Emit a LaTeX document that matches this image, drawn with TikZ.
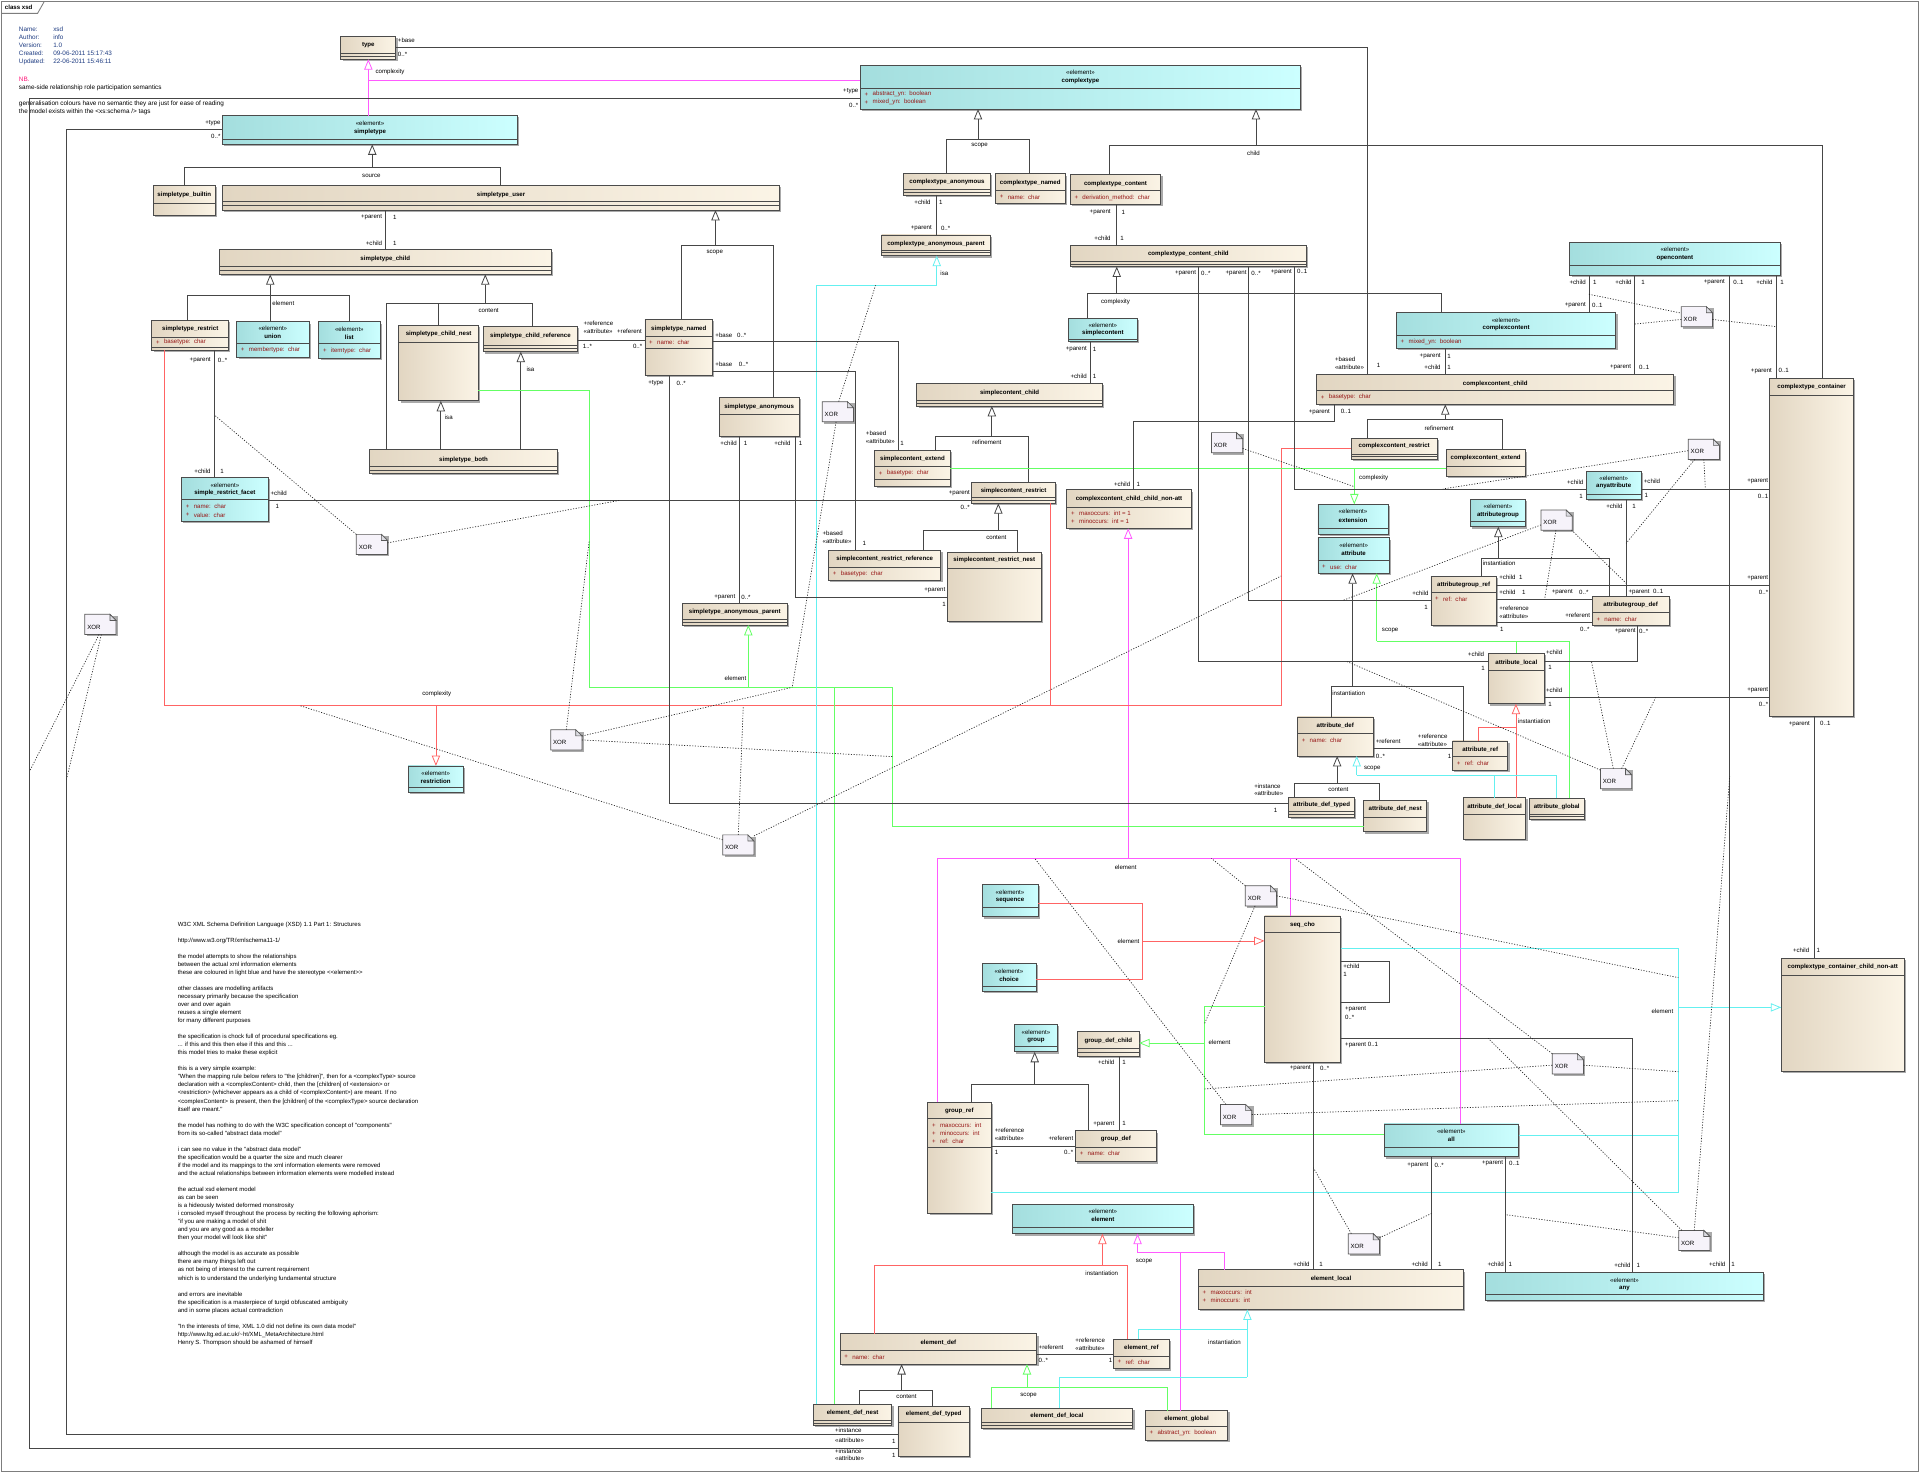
\documentclass[tikz,border=0pt]{standalone}
\usetikzlibrary{arrows.meta,calc}
\font\fR="Liberation Sans" at 5pt
\font\fB="Liberation Sans/B" at 5pt
\font\fT="Liberation Sans" at 4.9pt
\font\fH="Liberation Sans" at 5.2pt
\newcommand\fHb{\fH\baselineskip=6.55pt\relax}
\newcommand\fTb{\fT\baselineskip=6.57pt\relax}
\definecolor{bgL}{RGB}{226,214,194}
\definecolor{bgR}{RGB}{251,244,230}
\definecolor{cyL}{RGB}{164,222,222}
\definecolor{cyR}{RGB}{204,255,255}
\definecolor{boxC}{RGB}{75,75,75}
\definecolor{lnC}{RGB}{70,70,70}
\definecolor{magC}{RGB}{255,90,255}
\definecolor{redC}{RGB}{255,100,100}
\definecolor{grnC}{RGB}{100,255,100}
\definecolor{cyaC}{RGB}{100,240,240}
\definecolor{atC}{RGB}{150,20,20}
\definecolor{noteF}{RGB}{246,243,250}
\definecolor{foldF}{RGB}{220,220,226}
\definecolor{shC}{RGB}{170,170,170}
\definecolor{frC}{RGB}{125,125,125}
\definecolor{hdC}{RGB}{30,60,130}
\definecolor{nbC}{RGB}{255,20,120}
\newcount\nc
\newcommand\Tx[3][lab]{\global\advance\nc by 1\relax\edef\tname{t\the\nc}\node[#1] (\tname) at (#2) {#3};}
\newcommand\Bx[6]{\fill[shC] (#2+1.5,#3+1.5) rectangle (#4+1.5,#5+1.5);
  \node[#6,anchor=north west,minimum width={#4-#2},minimum height={#5-#3}] (#1) at (#2,#3) {};}
\newcommand\Hx[2]{\draw[cmp] (#1.west |- 0,#2) -- (#1.east |- 0,#2);}
\newcommand\Nx[3]{\Tx[nm]{#1.center |- 0,#2}{#3}}
\newcommand\Sx[2]{\Tx[stt]{#1.center |- 0,#2}{«element»}}
\newcommand\Ax[3]{\Tx[atp,xshift=3.5pt]{#1.west |- 0,#2}{+}\Tx[atp,xshift=10pt]{#1.west |- 0,#2}{#3}}
\newcommand\Xn[3]{\fill[shC] (#2+1.5,#3+1.5) rectangle (#2+27,#3+18);
  \filldraw[draw=frC!70!black, fill=noteF, line width=0.6pt] (#2,#3) -- (#2+20.5,#3) -- (#2+25.5,#3+5) -- (#2+25.5,#3+16.5) -- (#2,#3+16.5) -- cycle;
  \filldraw[draw=frC!70!black, fill=foldF, line width=0.5pt] (#2+20.5,#3) -- (#2+20.5,#3+5) -- (#2+25.5,#3+5) -- cycle;
  \node[anchor=north west, minimum width=25.5pt, minimum height=16.5pt, inner sep=0pt, outer sep=0pt] (#1) at (#2,#3) {};
  \Tx{#2+2,#3+10.3}{XOR}}
\tikzset{
 lab/.style={font=\fR, inner sep=0pt, outer sep=0pt, anchor=west, text=black},
 labE/.style={lab, anchor=east},
 labC/.style={lab, anchor=center},
 nm/.style={font=\fB, inner sep=0pt, outer sep=0pt, anchor=center, text=black},
 stt/.style={font=\fR, inner sep=0pt, outer sep=0pt, anchor=center, text=black},
 atp/.style={lab, text=atC},
 bb/.style={draw=boxC, line width=0.7pt, left color=bgL, right color=bgR, inner sep=0pt, outer sep=0pt},
 cb/.style={draw=boxC, line width=0.7pt, left color=cyL, right color=cyR, inner sep=0pt, outer sep=0pt},
 cmp/.style={draw=boxC, line width=0.6pt},
 cn/.style={line width=0.65pt},
 gl/.style={cn, draw=lnC}, ml/.style={cn, draw=magC}, rl/.style={cn, draw=redC},
 nl/.style={cn, draw=grnC}, kl/.style={cn, draw=cyaC},
 gtip/.style={-{Triangle[open, fill=white, length=8.5pt, width=6.8pt]}},
 ga/.style={gl, gtip}, ma/.style={ml, gtip}, ra/.style={rl, gtip}, na/.style={nl, gtip}, ka/.style={kl, gtip},
 xl/.style={draw=black!85, line width=0.55pt, dash pattern=on 0.9pt off 1.3pt},
}
\begin{document}
\begin{tikzpicture}[x=1pt,y=-1pt]
\useasboundingbox (0,0) rectangle (1568,1203);
\fill[white] (0,0) rectangle (1568,1203);
\draw[frC, line width=0.8pt] (1.5,1.5) rectangle (1566.5,1201.5);
\draw[frC, line width=0.7pt] (1.5,10.9) -- (30.7,10.9) -- (36,1.5);
\Tx[lab,font=\fB]{4,6.3}{class xsd}
\node[anchor=north west, inner sep=0pt, align=left, font=\fHb, text=hdC] (hdrA) at (15.3,21.9) {Name:\\Author:\\Version:\\Created:\\Updated:};
\node[anchor=north west, inner sep=0pt, align=left, font=\fHb, text=hdC] (hdrB) at (43.3,21.9) {xsd\\info\\1.0\\09-06-2011 15:17:43\\22-06-2011 15:46:11};
\node[anchor=north west, inner sep=0pt, align=left, font=\fHb] (nbtext) at (15.3,62.6) {\textcolor{nbC}{NB.}\\same-side relationship role participation semantics\\[6.55pt]generalisation colours have no semantic they are just for ease of reading\\the model exists within the <xs:schema /> tags};

% ================= BOXES =================
\Bx{type}{278.3}{29.4}{323.3}{48.4}{bb}
\Bx{st}{181.7}{94.4}{422.7}{117.9}{cb}
\Bx{ct}{702.7}{53.6}{1062}{89}{cb}
\Bx{stb}{125.3}{151.6}{175.7}{176.1}{bb}
\Bx{stu}{181.7}{151.6}{636.7}{171.5}{bb}
\Bx{stc}{179.3}{204.1}{450}{224}{bb}
\Bx{str}{124}{261.8}{186.7}{285.8}{bb}
\Bx{uni}{193.3}{262.7}{252.3}{292}{cb}
\Bx{lst}{260.3}{262.7}{310.3}{292.6}{cb}
\Bx{stn}{325.7}{265.9}{390.7}{327.4}{bb}
\Bx{strf}{394.7}{266.7}{471.7}{287.2}{bb}
\Bx{stbo}{302}{367.4}{455}{386.5}{bb}
\Bx{srf}{148.3}{389.8}{219}{426}{cb}
\Bx{stnm}{526.7}{260.7}{582}{306.7}{bb}
\Bx{stan}{587.2}{324.7}{652.8}{356}{bb}
\Bx{cta}{738}{141.5}{808.7}{159.2}{bb}
\Bx{ctn}{813}{142}{869.7}{166}{bb}
\Bx{ctc}{874}{142.3}{948}{166.8}{bb}
\Bx{ctap}{720}{191.9}{808.7}{208.8}{bb}
\Bx{cctc}{874}{200.6}{1067}{217.7}{bb}
\Bx{sc}{872.3}{260}{929}{279}{cb}
\Bx{scc}{748.7}{313}{900.3}{331.5}{bb}
\Bx{sce}{714.3}{368}{776}{397.4}{bb}
\Bx{scr}{793.5}{394}{862}{411}{bb}
\Bx{scrr}{676.7}{449.5}{768.4}{473.8}{bb}
\Bx{scrn}{773.7}{450.8}{850.3}{507.3}{bb}
\Bx{stap}{557.2}{492.7}{643}{510.4}{bb}
\Bx{ccn}{871.3}{400}{972.7}{431.5}{bb}
\Bx{oc}{1282}{197.9}{1453.6}{225.1}{cb}
\Bx{cc}{1140.3}{255}{1319.6}{284.4}{cb}
\Bx{ccc}{1075.3}{305.7}{1367}{330.2}{bb}
\Bx{ccr}{1103.6}{358}{1173.6}{375}{bb}
\Bx{cce}{1181}{367.4}{1245.6}{388.7}{bb}
\Bx{ctco}{1445.3}{309}{1513.6}{584.7}{bb}
\Bx{anya}{1295.3}{384.8}{1340.3}{407.8}{cb}
\Bx{ext}{1076.3}{411.9}{1133.6}{436.4}{cb}
\Bx{attr}{1076.3}{439.1}{1134.6}{468.2}{cb}
\Bx{agrp}{1201}{407.8}{1245.6}{430.1}{cb}
\Bx{agr}{1168.6}{470.4}{1222}{510.7}{bb}
\Bx{agd}{1300.3}{487.3}{1363}{510.7}{bb}
\Bx{al}{1215.6}{533.6}{1261}{574.7}{bb}
\Bx{ad}{1059.6}{585.5}{1121.3}{617.4}{bb}
\Bx{ar}{1186.3}{605.1}{1231.3}{629}{bb}
\Bx{adt}{1052.6}{650.9}{1106}{667.2}{bb}
\Bx{adn}{1113.6}{653.6}{1165.3}{679.2}{bb}
\Bx{adl}{1195}{651.4}{1246}{685.4}{bb}
\Bx{ag}{1249}{652}{1293.6}{669.1}{bb}
\Bx{rst}{333.3}{625.5}{378.3}{647.3}{cb}
\Bx{seqe}{802}{722.3}{847.7}{748.6}{cb}
\Bx{cho}{802}{786.6}{846}{809.6}{cb}
\Bx{grp}{828.3}{836.7}{863.7}{859}{cb}
\Bx{gdc}{880}{842.6}{930.3}{862.4}{bb}
\Bx{gr}{757.7}{900.3}{809.3}{991}{bb}
\Bx{gd}{878.3}{923.4}{944.3}{948.8}{bb}
\Bx{sq}{1032.7}{748}{1094.8}{867.5}{bb}
\Bx{all}{1130.3}{917.9}{1240.2}{944.8}{cb}
\Bx{ccna}{1454.6}{782.6}{1555.3}{874.9}{bb}
\Bx{elem}{827}{983.7}{974.3}{1007.5}{cb}
\Bx{el}{978.7}{1037}{1195.3}{1069.4}{bb}
\Bx{any}{1213}{1038.8}{1440.3}{1061.9}{cb}
\Bx{ed}{686}{1089.2}{846.7}{1114}{bb}
\Bx{er}{909.3}{1093.8}{955}{1117.9}{bb}
\Bx{edn}{664.3}{1146.9}{728.3}{1164}{bb}
\Bx{edt}{733.3}{1148.6}{791.7}{1189.5}{bb}
\Bx{edl}{801.3}{1150.2}{925}{1166.7}{bb}
\Bx{eg}{935.3}{1151.9}{1002.7}{1176.3}{bb}

% ================= CONNECTORS =================
\draw[gl] (150.7,0 |- stb.north) -- (150.7,136.6) -- (408.3,136.6) -- (408.3,0 |- stu.north);
\draw[ga] (304,136.6) -- (304,0 |- st.south);
\draw[gl] (153,0 |- str.north) -- (153,241.2) -- (285,241.2) -- (285,0 |- lst.north);
\draw[ga] (220.7,0 |- uni.north) -- (220.7,0 |- stc.south);
\draw[gl] (315.3,0 |- stbo.north) -- (315.3,248) -- (435,248) -- (435,0 |- strf.north);
\draw[gl] (357.7,248) -- (357.7,0 |- stn.north);
\draw[ga] (396.3,248) -- (396.3,0 |- stc.south);
\draw[ga] (360,0 |- stbo.north) -- (360,0 |- stn.south);
\draw[ga] (425.3,0 |- stbo.north) -- (425.3,0 |- strf.south);
\draw[gl] (556.7,0 |- stnm.north) -- (556.7,200.6) -- (632,200.6) -- (632,0 |- stan.north);
\draw[ga] (584.3,200.6) -- (584.3,0 |- stu.south);
\draw[gl] (773,0 |- cta.north) -- (773,113.8) -- (841,113.8) -- (841,0 |- ctn.north);
\draw[ga] (798.7,113.8) -- (798.7,0 |- ct.south);
\draw[gl] (906,0 |- ctc.north) -- (906,118.4) -- (1488,118.4) -- (1488,0 |- ctco.north);
\draw[ga] (1025.7,118.4) -- (1025.7,0 |- ct.south);
\draw[gl] (888.3,0 |- sc.north) -- (888.3,239.5) -- (1177,239.5) -- (1177,0 |- cc.north);
\draw[ga] (912,239.5) -- (912,0 |- cctc.south);
\draw[gl] (764,0 |- sce.north) -- (764,356.6) -- (840,356.6) -- (840,0 |- scr.north);
\draw[ga] (810,356.6) -- (810,0 |- scc.south);
\draw[gl] (754.3,0 |- scrr.north) -- (754.3,433) -- (831,433) -- (831,0 |- scrn.north);
\draw[ga] (815.3,433) -- (815.3,0 |- scr.south);
\draw[gl] (1116.3,0 |- ccr.north) -- (1116.3,342.4) -- (1227,342.4) -- (1227,0 |- cce.north);
\draw[ga] (1180.3,342.4) -- (1180.3,0 |- ccc.south);
\draw[gl] (1210,0 |- agr.north) -- (1210,456.3) -- (1314.3,456.3) -- (1314.3,0 |- agd.north);
\draw[ga] (1223.6,456.3) -- (1223.6,0 |- agrp.south);
\draw[gl] (1087,0 |- ad.north) -- (1087,560.8) -- (1195,560.8) -- (1195,0 |- ar.north);
\draw[ga] (1104.6,560.8) -- (1104.6,0 |- attr.south);
\draw[gl] (1057,0 |- adt.north) -- (1057,640) -- (1126.3,640) -- (1126.3,0 |- adn.north);
\draw[ga] (1092,640) -- (1092,0 |- ad.south);
\draw[gl] (793.3,0 |- gr.north) -- (793.3,885.5) -- (889,885.5) -- (889,0 |- gd.north);
\draw[ga] (845,885.5) -- (845,0 |- grp.south);
\draw[gl] (701.7,0 |- edn.north) -- (701.7,1135.4) -- (761.3,1135.4) -- (761.3,0 |- edt.north);
\draw[ga] (736.3,1135.4) -- (736.3,0 |- ed.south);
% magenta
\draw[ml] (300.8,0 |- st.north) -- (300.8,65.5) -- (ct.west |- 0,65.5);
\draw[ma] (300.8,65.5) -- (300.8,0 |- type.south);
\draw[ml] (765.3,0 |- gr.north) -- (765.3,701) -- (1193,701) -- (1193,0 |- all.north);
\draw[ml] (1054,701) -- (1054,0 |- sq.north);
\draw[ma] (921.3,701) -- (921.3,0 |- ccn.south);
\draw[ml] (1000,0 |- el.north) -- (1000,1023) -- (929,1023);
\draw[ml] (963.7,1023) -- (963.7,0 |- eg.north);
\draw[ma] (929,1023) -- (929,0 |- elem.south);
% red
\draw[rl] (134,0 |- str.south) -- (134,576.3) -- (1046.3,576.3) -- (1046.3,366.1) -- (ccr.west |- 0,366.1);
\draw[rl] (857.7,0 |- scr.south) -- (857.7,576.3);
\draw[ra] (356,576.3) -- (356,0 |- rst.north);
\draw[rl] (seqe.east |- 0,737.8) -- (932.7,737.8) -- (932.7,799.7) -- (cho.east |- 0,799.7);
\draw[ra] (932.7,768.4) -- (sq.west |- 0,768.4);
\draw[rl] (713.7,0 |- ed.north) -- (713.7,1033.2) -- (920.3,1033.2) -- (920.3,0 |- er.north);
\draw[ra] (900.3,1033.2) -- (900.3,0 |- elem.south);
\draw[rl] (1207.3,0 |- ar.north) -- (1207.3,594.2) -- (1238,594.2);
\draw[ra] (1238,0 |- adl.north) -- (1238,0 |- al.south);
% green
\draw[nl] (stn.east |- 0,318.5) -- (481.3,318.5) -- (481.3,561.3) -- (729,561.3) -- (729,674.5) -- (adn.west |- 0,674.5);
\draw[nl] (681.3,561.3) -- (681.3,0 |- edn.north);
\draw[na] (611.1,561.3) -- (611.1,0 |- stap.south);
\draw[nl] (sce.east |- 0,382.4) -- (cce.west |- 0,382.4);
\draw[na] (1106,382.4) -- (1106,0 |- ext.north);
\draw[nl] (1124.3,523.5) -- (1281.3,523.5) -- (1281.3,0 |- ag.north);
\draw[nl] (1238,523.5) -- (1238,0 |- al.north);
\draw[na] (1124.3,523.5) -- (1124.3,0 |- attr.south);
\draw[nl] (sq.west |- 0,821.8) -- (983.7,821.8) -- (983.7,926) -- (all.west |- 0,926);
\draw[na] (983.7,851.8) -- (gdc.east |- 0,851.8);
\draw[nl] (809.7,0 |- edl.north) -- (809.7,1133.4) -- (953.7,1133.4) -- (953.7,0 |- eg.north);
\draw[na] (838.7,1133.4) -- (838.7,0 |- ed.south);
% cyan
\draw[kl] (666.4,0 |- edn.north) -- (666.4,233) -- (765,233);
\draw[ka] (765,233) -- (765,0 |- ctap.south);
\draw[kl] (sq.east |- 0,774.8) -- (1370.6,774.8) -- (1370.6,973.7) -- (gr.east |- 0,973.7);
\draw[kl] (all.east |- 0,927.5) -- (1370.6,927.5);
\draw[ka] (1370.6,822.7) -- (ccna.west |- 0,822.7);
\draw[kl] (1108,633.2) -- (1271.3,633.2) -- (1271.3,0 |- ag.north);
\draw[kl] (1220.3,633.2) -- (1220.3,0 |- adl.north);
\draw[ka] (1108,633.2) -- (1108,0 |- ad.south);
\draw[kl] (865.3,0 |- edl.north) -- (865.3,1124.5) -- (1018.7,1124.5);
\draw[kl] (929.3,0 |- er.north) -- (929.3,1086) -- (1018.7,1086);
\draw[ka] (1018.7,1124.5) -- (1018.7,0 |- el.south);
% gray associations
\draw[gl] (type.east |- 0,38.9) -- (1116.6,38.9) -- (1116.6,0 |- ccc.north);
\draw[gl] (ct.west |- 0,80.3) -- (24.3,80.3) -- (24.3,1182.8) -- (edt.west |- 0,1182.8);
\draw[gl] (st.west |- 0,106) -- (54.3,106) -- (54.3,1171.4) -- (edt.west |- 0,1171.4);
\draw[gl] (315,0 |- stu.south) -- (315,0 |- stc.north);
\draw[gl] (175,0 |- str.south) -- (175,0 |- srf.north);
\draw[gl] (srf.east |- 0,408.6) -- (scr.west |- 0,408.6);
\draw[gl] (strf.east |- 0,277.6) -- (stnm.west |- 0,277.6);
\draw[gl] (stnm.east |- 0,279) -- (733.5,279) -- (733.5,0 |- sce.north);
\draw[gl] (stnm.east |- 0,303.5) -- (698.5,303.5) -- (698.5,0 |- scrr.north);
\draw[gl] (546.6,0 |- stnm.south) -- (546.6,656.5) -- (adt.west |- 0,656.5);
\draw[gl] (603.8,0 |- stan.south) -- (603.8,0 |- stap.north);
\draw[gl] (649.8,0 |- stan.south) -- (649.8,487.8) -- (scrn.west |- 0,487.8);
\draw[gl] (765,0 |- cta.south) -- (765,0 |- ctap.north);
\draw[gl] (911.7,0 |- ctc.south) -- (911.7,0 |- cctc.north);
\draw[gl] (890.3,0 |- sc.south) -- (890.3,0 |- scc.north);
\draw[gl] (978.7,0 |- cctc.south) -- (978.7,540.4) -- (al.west |- 0,540.4);
\draw[gl] (1019.7,0 |- cctc.south) -- (1019.7,490.3) -- (agr.west |- 0,490.3);
\draw[gl] (1057,0 |- cctc.south) -- (1057,399.3) -- (anya.west |- 0,399.3);
\draw[gl] (anya.east |- 0,399.3) -- (ctco.west |- 0,399.3);
\draw[gl] (1328,0 |- anya.south) -- (1328,0 |- agd.north);
\draw[gl] (1089.4,0 |- ccc.south) -- (1089.4,343.8) -- (926,343.8) -- (926,0 |- ccn.north);
\draw[gl] (1297.6,0 |- oc.south) -- (1297.6,0 |- cc.north);
\draw[gl] (1335,0 |- oc.south) -- (1335,0 |- ccc.north);
\draw[gl] (1412.6,0 |- oc.south) -- (1412.6,0 |- any.north);
\draw[gl] (1450.3,0 |- oc.south) -- (1450.3,0 |- ctco.north);
\draw[gl] (1180.3,0 |- cc.south) -- (1180.3,0 |- ccc.north);
\draw[gl] (agr.east |- 0,478) -- (ctco.west |- 0,478);
\draw[gl] (agr.east |- 0,489.5) -- (agd.west |- 0,489.5);
\draw[gl] (agr.east |- 0,508.5) -- (agd.west |- 0,508.5);
\draw[gl] (1337,0 |- agd.south) -- (1337,539.8) -- (al.east |- 0,539.8);
\draw[gl] (al.east |- 0,569.7) -- (ctco.west |- 0,569.7);
\draw[gl] (ad.east |- 0,611.1) -- (ar.west |- 0,611.1);
\draw[gl] (1482,0 |- ctco.south) -- (1482,0 |- ccna.north);
\draw[gl] (sq.east |- 0,785.4) -- (1135,785.4) -- (1135,818.6) -- (sq.east |- 0,818.6);
\draw[gl] (sq.east |- 0,848) -- (1333,848) -- (1333,0 |- any.north);
\draw[gl] (1072.6,0 |- sq.south) -- (1072.6,0 |- el.north);
\draw[gl] (1169,0 |- all.south) -- (1169,0 |- el.north);
\draw[gl] (1229.6,0 |- all.south) -- (1229.6,0 |- any.north);
\draw[gl] (914.3,0 |- gdc.south) -- (914.3,0 |- gd.north);
\draw[gl] (gr.east |- 0,936) -- (gd.west |- 0,936);
\draw[gl] (ed.east |- 0,1105.7) -- (er.west |- 0,1105.7);

% ================= XOR notes =================
\Xn{xa}{1373}{250.4}
\Xn{xb}{1378.7}{358.7}
\Xn{xc}{989.3}{353.3}
\Xn{xd}{671.5}{328}
\Xn{xe}{291}{436.4}
\Xn{xf}{449.7}{596}
\Xn{xg}{590.2}{681.8}
\Xn{xh}{1258.5}{416.5}
\Xn{xi}{1307}{627.7}
\Xn{xj}{1267.7}{860.5}
\Xn{xk}{1370.9}{1004.8}
\Xn{xl}{1101}{1007.5}
\Xn{xm}{1017}{723.3}
\Xn{xn}{996.7}{902}
\Xn{xo}{69.3}{501.7}
\coordinate (pa1) at (1297.6,240.3);
\coordinate (pa2) at (1335,264.6);
\coordinate (pa3) at (1450.3,266.7);
\coordinate (pb1) at (1178.3,399.3);
\coordinate (pb2) at (1328,443.7);
\coordinate (pb3) at (1392.7,399.3);
\coordinate (pc1) at (1106,397.4);
\coordinate (pd1) at (715,233);
\coordinate (pd2) at (647,561.3);
\coordinate (pe1) at (175,338.9);
\coordinate (pe2) at (506.3,408.6);
\coordinate (pf1) at (481.3,441);
\coordinate (pf3) at (729,617.9);
\coordinate (pg1) at (607,576.3);
\coordinate (pg2) at (245,576.3);
\coordinate (pg3) at (1046.3,470.4);
\coordinate (ph1) at (1096.7,490.3);
\coordinate (ph2) at (1261.4,489.5);
\coordinate (ph3) at (1328,476.3);
\coordinate (pi1) at (1100.3,540.4);
\coordinate (pi2) at (1299.6,539.8);
\coordinate (pi3) at (1352,569.7);
\coordinate (pj1) at (1057.6,701);
\coordinate (pj2) at (983.7,889.3);
\coordinate (pj3) at (1370.6,875.2);
\coordinate (pk1) at (1229.6,992);
\coordinate (pk2) at (1215.4,848);
\coordinate (pk3) at (1412.6,634);
\coordinate (pl1) at (1072.6,953.7);
\coordinate (pl2) at (1169,991);
\coordinate (pm1) at (989.3,701);
\coordinate (pm2) at (983.7,836);
\coordinate (pm3) at (1370.6,798.4);
\coordinate (pn1) at (845,701);
\coordinate (pn2) at (1370.6,898.9);
\coordinate (po1) at (24.3,629.6);
\coordinate (po2) at (54.3,636.4);
\draw[xl] (pa1) -- (xa.167); \draw[xl] (pa2) -- (xa.190); \draw[xl] (xa.350) -- (pa3);
\draw[xl] (xb.185) -- (pb1); \draw[xl] (xb.228) -- (pb2); \draw[xl] (xb.south) -- (pb3);
\draw[xl] (xc.340) -- (pc1);
\draw[xl] (xd.85) -- (pd1); \draw[xl] (xd.260) -- (pd2);
\draw[xl] (xe.north west) -- (pe1); \draw[xl] (xe.6) -- (pe2);
\draw[xl] (xf.north) -- (pf1); \draw[xl] (xf.14) -- (pd2); \draw[xl] (xf.east) -- (pf3);
\draw[xl] (xg.north) -- (pg1); \draw[xl] (xg.162) -- (pg2); \draw[xl] (xg.30) -- (pg3);
\draw[xl] (xh.197) -- (ph1); \draw[xl] (xh.266) -- (ph2); \draw[xl] (xh.326) -- (ph3);
\draw[xl] (xi.151) -- (pi1); \draw[xl] (xi.105) -- (pi2); \draw[xl] (xi.61) -- (pi3);
\draw[xl] (xj.north west) -- (pj1); \draw[xl] (xj.185) -- (pj2); \draw[xl] (xj.355) -- (pj3);
\draw[xl] (xk.170) -- (pk1); \draw[xl] (xk.141) -- (pk2); \draw[xl] (xk.north) -- (pk3);
\draw[xl] (xl.141) -- (pl1); \draw[xl] (xl.21) -- (pl2);
\draw[xl] (xm.north west) -- (pm1); \draw[xl] (xm.240) -- (pm2); \draw[xl] (xm.east) -- (pm3);
\draw[xl] (xn.135) -- (pn1); \draw[xl] (xn.east) -- (pn2);
\draw[xl] (xo.262) -- (po1); \draw[xl] (xo.275) -- (po2);

% ================= BOX CONTENTS =================
\Hx{type}{43.5}\Hx{type}{46.3}\Nx{type}{36.8}{type}
\Sx{st}{100.7}\Nx{st}{107.5}{simpletype}\Hx{st}{113.8}
\Sx{ct}{59.3}\Nx{ct}{66.1}{complextype}\Hx{ct}{72.1}\Ax{ct}{77}{abstract\_yn:\ \ boolean}\Ax{ct}{83.6}{mixed\_yn:\ \ boolean}
\Nx{stb}{159.5}{simpletype\_builtin}\Hx{stb}{166}
\Nx{stu}{159}{simpletype\_user}\Hx{stu}{164.7}\Hx{stu}{168}
\Nx{stc}{211.5}{simpletype\_child}\Hx{stc}{217.2}\Hx{stc}{220.5}
\Nx{str}{269}{simpletype\_restrict}\Hx{str}{275.4}\Ax{str}{279.6}{basetype:\ \ char}\Hx{str}{283.6}
\Sx{uni}{268.4}\Nx{uni}{275}{union}\Hx{uni}{280.3}\Ax{uni}{285.8}{membertype:\ \ char}
\Sx{lst}{268.6}\Nx{lst}{275.3}{list}\Hx{lst}{280.3}\Ax{lst}{286.2}{itemtype:\ \ char}
\Nx{stn}{272.8}{simpletype\_child\_nest}\Hx{stn}{279.5}
\Nx{strf}{274.3}{simpletype\_child\_reference}\Hx{strf}{281.7}\Hx{strf}{284.5}
\Nx{stbo}{375.3}{simpletype\_both}\Hx{stbo}{381}\Hx{stbo}{383.8}
\Sx{srf}{396}\Nx{srf}{402.3}{simple\_restrict\_facet}\Hx{srf}{408}\Ax{srf}{413.8}{name:\ \ char}\Ax{srf}{420.6}{value:\ \ char}
\Nx{stnm}{268.2}{simpletype\_named}\Hx{stnm}{274.9}\Ax{stnm}{279.6}{name:\ \ char}\Hx{stnm}{284.5}
\Nx{stan}{332}{simpletype\_anonymous}\Hx{stan}{338.3}
\Nx{cta}{148.6}{complextype\_anonymous}\Hx{cta}{155}\Hx{cta}{157.2}
\Nx{ctn}{149.5}{complextype\_named}\Hx{ctn}{155.2}\Ax{ctn}{160.8}{name:\ \ char}
\Nx{ctc}{150.3}{complextype\_content}\Hx{ctc}{155.7}\Ax{ctc}{161.4}{derivation\_method:\ \ char}
\Nx{ctap}{199.6}{complextype\_anonymous\_parent}\Hx{ctap}{204.1}\Hx{ctap}{206.5}
\Nx{cctc}{207.6}{complextype\_content\_child}\Hx{cctc}{213.7}\Hx{cctc}{215.8}
\Sx{sc}{265.9}\Nx{sc}{272.2}{simplecontent}\Hx{sc}{277.4}
\Nx{scc}{320.6}{simplecontent\_child}\Hx{scc}{326.6}\Hx{scc}{329}
\Nx{sce}{374.6}{simplecontent\_extend}\Hx{sce}{381}\Ax{sce}{386.5}{basetype:\ \ char}\Hx{sce}{391.5}
\Nx{scr}{400.8}{simplecontent\_restrict}\Hx{scr}{406.5}\Hx{scr}{408.8}
\Nx{scrr}{456.4}{simplecontent\_restrict\_reference}\Hx{scrr}{463}\Ax{scrr}{468.5}{basetype:\ \ char}
\Nx{scrn}{457.6}{simplecontent\_restrict\_nest}\Hx{scrn}{464.1}
\Nx{stap}{500.1}{simpletype\_anonymous\_parent}\Hx{stap}{505.8}\Hx{stap}{508}
\Nx{ccn}{407.5}{complexcontent\_child\_child\_non-att}\Hx{ccn}{414}\Ax{ccn}{419.5}{maxoccurs:\ \ int = 1}\Ax{ccn}{426}{minoccurs:\ \ int = 1}
\Sx{oc}{203.6}\Nx{oc}{210.4}{opencontent}\Hx{oc}{216.4}
\Sx{cc}{261.6}\Nx{cc}{268.1}{complexcontent}\Hx{cc}{274}\Ax{cc}{279.2}{mixed\_yn:\ \ boolean}
\Nx{ccc}{313.6}{complexcontent\_child}\Hx{ccc}{319}\Ax{ccc}{324.4}{basetype:\ \ char}
\Nx{ccr}{364.3}{complexcontent\_restrict}\Hx{ccr}{370.7}\Hx{ccr}{372.8}
\Nx{cce}{373.8}{complexcontent\_extend}\Hx{cce}{380.5}
\Nx{ctco}{316.2}{complextype\_container}\Hx{ctco}{322.5}
\Sx{anya}{390.8}\Nx{anya}{397}{anyattribute}\Hx{anya}{403.7}
\Sx{ext}{417.9}\Nx{ext}{424.7}{extension}\Hx{ext}{431.5}
\Sx{attr}{445.1}\Nx{attr}{451.9}{attribute}\Hx{attr}{457.6}\Ax{attr}{463.1}{use:\ \ char}
\Sx{agrp}{413.8}\Nx{agrp}{420.6}{attributegroup}\Hx{agrp}{426}
\Nx{agr}{477.4}{attributegroup\_ref}\Hx{agr}{484}\Ax{agr}{489.2}{ref:\ \ char}
\Nx{agd}{494}{attributegroup\_def}\Hx{agd}{500.3}\Ax{agd}{505.8}{name:\ \ char}
\Nx{al}{540.8}{attribute\_local}\Hx{al}{547.2}
\Nx{ad}{592.5}{attribute\_def}\Hx{ad}{599.1}\Ax{ad}{604.6}{name:\ \ char}
\Nx{ar}{611.8}{attribute\_ref}\Hx{ar}{617.9}\Ax{ar}{623.5}{ref:\ \ char}
\Nx{adt}{657.6}{attribute\_def\_typed}\Hx{adt}{662.8}\Hx{adt}{665}
\Nx{adn}{660.5}{attribute\_def\_nest}\Hx{adn}{667.2}
\Nx{adl}{658.5}{attribute\_def\_local}\Hx{adl}{665}
\Nx{ag}{659}{attribute\_global}\Hx{ag}{665}\Hx{ag}{667}
\Sx{rst}{631.8}\Nx{rst}{638.1}{restriction}\Hx{rst}{643}
\Sx{seqe}{728.5}\Nx{seqe}{735.5}{sequence}\Hx{seqe}{741}
\Sx{cho}{793}\Nx{cho}{799.5}{choice}\Hx{cho}{805.4}
\Sx{grp}{843}\Nx{grp}{849.6}{group}\Hx{grp}{854.8}
\Nx{gdc}{850}{group\_def\_child}\Hx{gdc}{856.5}\Hx{gdc}{859.5}
\Nx{gr}{907}{group\_ref}\Hx{gr}{913.5}\Ax{gr}{919}{maxoccurs:\ \ int}\Ax{gr}{925.7}{minoccurs:\ \ int}\Ax{gr}{932.3}{ref:\ \ char}\Hx{gr}{937}
\Nx{gd}{930}{group\_def}\Hx{gd}{936.6}\Ax{gd}{942}{name:\ \ char}
\Nx{sq}{755}{seq\_cho}\Hx{sq}{761.8}
\Sx{all}{924}\Nx{all}{930.6}{all}\Hx{all}{936.6}
\Nx{ccna}{789.8}{complextype\_container\_child\_non-att}\Hx{ccna}{796.5}
\Sx{elem}{989.3}\Nx{elem}{996}{element}\Hx{elem}{1002.5}
\Nx{el}{1044.2}{element\_local}\Hx{el}{1050.3}\Ax{el}{1055.6}{maxoccurs:\ \ int}\Ax{el}{1062.2}{minoccurs:\ \ int}
\Sx{any}{1045.4}\Nx{any}{1052}{any}\Hx{any}{1057}
\Nx{ed}{1096.3}{element\_def}\Hx{ed}{1103}\Ax{ed}{1108.3}{name:\ \ char}
\Nx{er}{1100.6}{element\_ref}\Hx{er}{1107.4}\Ax{er}{1112.3}{ref:\ \ char}
\Nx{edn}{1153.3}{element\_def\_nest}\Hx{edn}{1159.8}\Hx{edn}{1162}
\Nx{edt}{1155}{element\_def\_typed}\Hx{edt}{1161.8}
\Nx{edl}{1156}{element\_def\_local}\Hx{edl}{1161.8}\Hx{edl}{1164}
\Nx{eg}{1158.5}{element\_global}\Hx{eg}{1165}\Ax{eg}{1170.3}{abstract\_yn:\ \ boolean}

% ================= CONNECTOR LABELS =================
\Tx{325,33.2}{+base}\Tx{325,44.4}{0..*}
\Tx{306.7,58.5}{complexity}
\Tx[labE]{180,100.7}{+type}\Tx[labE]{180,111.6}{0..*}
\Tx[labE]{701,74.8}{+type}\Tx[labE]{701,86}{0..*}
\Tx[labC]{303.3,143.7}{source}
\Tx[labE]{312,177.7}{+parent}\Tx{321,177.7}{1}\Tx[labE]{312,198.7}{+child}\Tx{321,198.7}{1}
\Tx{222.5,247.7}{element}
\Tx[labC]{399,253.4}{content}
\Tx{363.3,341}{isa}\Tx{430,301.6}{isa}
\Tx{476.7,264}{+reference}\Tx{476.7,270.8}{«attribute»}\Tx{504,270.8}{+referent}\Tx{476,282.5}{1..*}\Tx{517,282.5}{0..*}
\Tx[labE]{172,294}{+parent}\Tx{178,294}{0..*}\Tx[labE]{172,384.6}{+child}\Tx{180,384.6}{1}
\Tx{221,403}{+child}\Tx{225,413.8}{1}
\Tx[labE]{792,402.9}{+parent}\Tx[labE]{792,414.2}{0..*}
\Tx[labC]{583.7,206}{scope}
\Tx{584.3,273.5}{+base}\Tx{602,273.5}{0..*}\Tx{584.3,297.5}{+base}\Tx{603.5,297.5}{0..*}
\Tx{529.5,313}{+type}\Tx{552.5,313}{0..*}
\Tx[labE]{601.6,362}{+child}\Tx{607.5,362}{1}\Tx[labE]{645.5,362}{+child}\Tx{652.5,362}{1}
\Tx[labE]{600.5,488}{+parent}\Tx{605.5,488}{0..*}
\Tx[labE]{609.5,553.9}{element}
\Tx[labE]{772,482.3}{+parent}\Tx{769.5,493.3}{1}
\Tx{671.8,435.5}{+based}\Tx{671.8,442.3}{«attribute»}\Tx{704.5,443.7}{1}
\Tx{707.2,353.9}{+based}\Tx{707.2,360.7}{«attribute»}\Tx{735.3,362}{1}
\Tx[labE]{760,165.2}{+child}\Tx{767,165.2}{1}\Tx[labE]{761,186.7}{+parent}\Tx{768.5,186.7}{0..*}
\Tx[labC]{800,119}{scope}
\Tx{768,223}{isa}
\Tx[labC]{1023.7,125.5}{child}
\Tx[labE]{907,173.1}{+parent}\Tx{916,173.1}{1}\Tx[labE]{907,194.9}{+child}\Tx{915,194.9}{1}
\Tx[labE]{976.7,223.2}{+parent}\Tx{981,223.2}{0..*}\Tx[labE]{1018,223.2}{+parent}\Tx{1022,223.2}{0..*}\Tx[labE]{1055,222}{+parent}\Tx{1059.3,222}{0..1}
\Tx[labC]{911,246.3}{complexity}
\Tx[labE]{887.5,285.2}{+parent}\Tx{892.5,285.2}{1}\Tx[labE]{887.5,307.6}{+child}\Tx{892.5,307.6}{1}
\Tx[labC]{806,361.5}{refinement}
\Tx[labC]{813.7,438.6}{content}
\Tx[labE]{923,395.2}{+child}\Tx{928.3,395.2}{1}
\Tx[labE]{1086,336.2}{+parent}\Tx{1095,336.2}{0..1}
\Tx[labC]{919.3,708.6}{element}
\Tx[labC]{356.7,566.5}{complexity}
\Tx[labE]{1295,230.8}{+child}\Tx{1301,230.8}{1}\Tx[labE]{1295,249.3}{+parent}\Tx{1300.3,249.3}{0..1}
\Tx[labE]{1332.5,230.8}{+child}\Tx{1340.5,230.8}{1}\Tx[labE]{1332,300}{+parent}\Tx{1338.5,300}{0..1}
\Tx[labE]{1408.6,230.8}{+parent}\Tx{1415.5,230.8}{0..1}\Tx[labE]{1447.5,230.8}{+child}\Tx{1454,230.8}{1}
\Tx[labE]{1447,302.7}{+parent}\Tx{1452.5,302.7}{0..1}
\Tx[labE]{1176.5,290.7}{+parent}\Tx{1182,290.7}{1}\Tx[labE]{1176.5,300}{+child}\Tx{1182,300}{1}
\Tx{1090.3,293.1}{+based}\Tx{1090.3,300}{«attribute»}\Tx{1124.5,298.6}{1}
\Tx[labC]{1175.3,349.8}{refinement}
\Tx{1110,390.6}{complexity}
\Tx[labE]{1293,394.1}{+child}\Tx[labE]{1292.5,405.6}{1}
\Tx{1342.5,393}{+child}\Tx{1343,404.7}{1}
\Tx[labE]{1444,393.3}{+parent}\Tx[labE]{1444,405}{0..1}
\Tx[labE]{1325,413.8}{+child}\Tx{1333,413.8}{1}
\Tx{1330,483.2}{+parent}\Tx{1350,483.2}{0..1}
\Tx{1211,460.3}{instantiation}
\Tx{1224.5,471.8}{+child}\Tx{1240.5,471.8}{1}
\Tx{1224.5,484}{+child}\Tx{1243,484}{1}\Tx{1267.3,483.8}{+parent}\Tx{1289.7,483.8}{0..*}
\Tx{1224.5,497}{+reference}\Tx{1224.5,503.6}{«attribute»}\Tx{1225,514}{1}
\Tx[labE]{1298.5,502.8}{+referent}\Tx[labE]{1298,514}{0..*}
\Tx[labE]{1335.8,515.8}{+parent}\Tx{1338.5,515.8}{0..*}
\Tx[labE]{1166.6,484.5}{+child}\Tx[labE]{1166,496.2}{1}
\Tx[labE]{1444,472}{+parent}\Tx[labE]{1444,483.5}{0..*}
\Tx[labE]{1212,534.4}{+child}\Tx[labE]{1212.5,546}{1}
\Tx{1262.6,533}{+child}\Tx{1264.5,545.3}{1}
\Tx{1262.6,563.8}{+child}\Tx{1264.5,575.2}{1}
\Tx[labE]{1444,563.8}{+parent}\Tx[labE]{1444,575.2}{0..*}
\Tx{1128.6,514.8}{scope}
\Tx{1088,566.2}{instantiation}
\Tx{1239.6,588.8}{instantiation}
\Tx{1123.6,605.7}{+referent}\Tx{1123.6,617.4}{0..*}
\Tx{1158,601.3}{+reference}\Tx{1158,607.9}{«attribute»}\Tx{1182.5,617.4}{1}
\Tx{1114,627.7}{scope}
\Tx[labC]{1093,644.9}{content}
\Tx{1024.3,641.9}{+instance}\Tx{1024.3,648.1}{«attribute»}\Tx{1040.3,661.5}{1}
\Tx{1097,789.2}{+child}\Tx{1097,795.8}{1}\Tx{1098.5,824.5}{+parent}\Tx{1098.5,831}{0..*}
\Tx{1098.6,853.5}{+parent 0..1}
\Tx[labE]{1070.5,872.3}{+parent}\Tx{1078,872.3}{0..*}
\Tx[labE]{1069.5,1032.2}{+child}\Tx{1077.5,1032.2}{1}\Tx[labE]{1166,1032.2}{+child}\Tx{1174.5,1032.2}{1}
\Tx[labE]{1166.5,951.4}{+parent}\Tx{1171.5,951.4}{0..*}\Tx[labE]{1227.5,950}{+parent}\Tx{1232.5,950}{0..1}
\Tx[labE]{1228,1032.8}{+child}\Tx{1232,1032.8}{1}\Tx[labE]{1331.5,1033.2}{+child}\Tx{1336.5,1033.2}{1}\Tx[labE]{1409,1032.8}{+child}\Tx{1414,1032.8}{1}
\Tx[labE]{1366.5,825.7}{element}
\Tx[labE]{1477.5,776.3}{+child}\Tx{1483.5,776.3}{1}
\Tx[labE]{1478,591}{+parent}\Tx{1486.5,591}{0..1}
\Tx[labE]{930.5,768.4}{element}
\Tx{987,851.5}{element}
\Tx[labE]{910,867.7}{+child}\Tx{916.5,867.7}{1}\Tx[labE]{910,917.8}{+parent}\Tx{916.5,917.8}{1}
\Tx{812.5,923}{+reference}\Tx{812.5,929.7}{«attribute»}\Tx{812.5,940.9}{1}
\Tx[labE]{876.5,930}{+referent}\Tx[labE]{876.5,940.9}{0..*}
\Tx{927.7,1030}{scope}
\Tx[labC]{899.8,1039.8}{instantiation}
\Tx{848.3,1100}{+referent}\Tx{848.3,1111.3}{0..*}
\Tx{878.3,1094.2}{+reference}\Tx{878.3,1100.8}{«attribute»}\Tx{905.5,1111.3}{1}
\Tx{986.7,1095.8}{instantiation}
\Tx[labC]{840,1140}{scope}
\Tx[labC]{740.3,1140.7}{content}
\Tx{682,1168.3}{+instance}\Tx{682,1176.2}{«attribute»}\Tx{728.5,1177}{1}
\Tx{682,1185}{+instance}\Tx{682,1191}{«attribute»}\Tx{728.5,1188.8}{1}

% ================= NOTE TEXT =================
\node[anchor=north west, inner sep=0pt, align=left, font=\fTb] (notetext) at (145,752.5) {W3C XML Schema Definition Language (XSD) 1.1 Part 1: Structures\\[6.57pt]
http://www.w3.org/TR/xmlschema11-1/\\[6.57pt]
the model attempts to show the relationships\\
between the actual xml information elements\\
these are coloured in light blue and have the stereotype <<element>>\\[6.57pt]
other classes are modelling artifacts\\
necessary primarily because the specification\\
over and over again\\
reuses a single element\\
for many different purposes\\[6.57pt]
the specification is chock full of procedural specifications eg.\\
... if this and this then else if this and this ...\\
this model tries to make these explicit\\[6.57pt]
this is a very simple example:\\
"When the mapping rule below refers to "the [children]", then for a <complexType> source\\
declaration with a <complexContent> child, then the [children] of <extension> or\\
<restriction> (whichever appears as a child of <complexContent>) are meant. If no\\
<complexContent> is present, then the [children] of the <complexType> source declaration\\
itself are meant."\\[6.57pt]
the model has nothing to do with the W3C specification concept of "components"\\
from its so-called "abstract data model"\\[6.57pt]
i can see no value in the "abstract data model"\\
the specification would be a quarter the size and much clearer\\
if the model and its mappings to the xml information elements were removed\\
and the actual relationships between information elements were modelled instead\\[6.57pt]
the actual xsd element model\\
as can be seen\\
is a hideously twisted deformed monstrosity\\
i consoled myself throughout the process by reciting the following aphorism:\\
"if you are making a model of shit\\
and you are any good as a modeller\\
then your model will look like shit"\\[6.57pt]
although the model is as accurate as possible\\
there are many things left out\\
as not being of interest to the current requirement\\
which is to understand the underlying fundamental structure\\[6.57pt]
and errors are inevitable\\
the specification is a masterpiece of turgid obfuscated ambiguity\\
and in some places actual contradiction\\[6.57pt]
"In the interests of time, XML 1.0 did not define its own data model"\\
http://www.ltg.ed.ac.uk/\textasciitilde ht/XML\_MetaArchitecture.html\\
Henry S. Thompson should be ashamed of himself};
\end{tikzpicture}
\end{document}
